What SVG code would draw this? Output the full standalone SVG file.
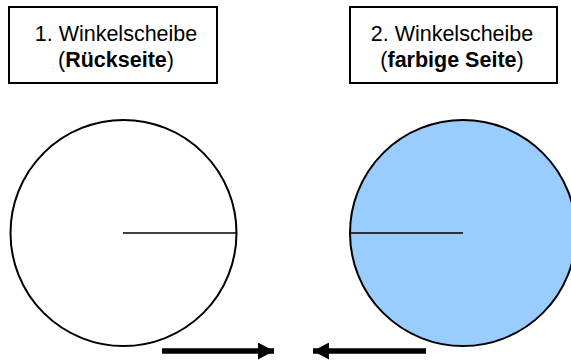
<svg xmlns="http://www.w3.org/2000/svg" width="571" height="361" viewBox="0 0 571 361">
<defs>
<style>
.box{fill:#fff;stroke:#000;stroke-width:2}
.disc{stroke:#000;stroke-width:2}
.rad{stroke:#000;stroke-width:1.5}
.t{font-family:"Liberation Sans",Arial,sans-serif;font-size:21.5px;fill:#000;text-anchor:middle}
.b{font-weight:bold}
.arr{stroke:#000;stroke-width:5.5;fill:none}
</style>
<marker id="ah" markerUnits="userSpaceOnUse" markerWidth="17" markerHeight="17" refX="16" refY="8.5" orient="auto">
<path d="M0,0 L16,8.5 L0,17 Z" fill="#000"/>
</marker>
</defs>
<g id="label1">
<rect class="box" x="9" y="7" width="208" height="76"/>
<text class="t" x="116" y="41">1. Winkelscheibe</text>
<text class="t" x="116" y="67">(<tspan class="b">Rückseite</tspan>)</text>
</g>
<g id="label2">
<rect class="box" x="350" y="7" width="207" height="76"/>
<text class="t" x="452" y="41">2. Winkelscheibe</text>
<text class="t" x="452" y="67">(<tspan class="b">farbige Seite</tspan>)</text>
</g>
<g id="disc1">
<circle class="disc" cx="123.5" cy="233" r="113" fill="#fff"/>
<line class="rad" x1="123" y1="233" x2="236.5" y2="233"/>
</g>
<g id="disc2">
<circle class="disc" cx="463" cy="233" r="113" fill="#99CCFF"/>
<line class="rad" x1="350" y1="233" x2="463" y2="233"/>
</g>
<g id="connectors">
<line class="arr" x1="162" y1="351" x2="274" y2="351" marker-end="url(#ah)"/>
<line class="arr" x1="426" y1="351" x2="313" y2="351" marker-end="url(#ah)"/>
</g>
</svg>
